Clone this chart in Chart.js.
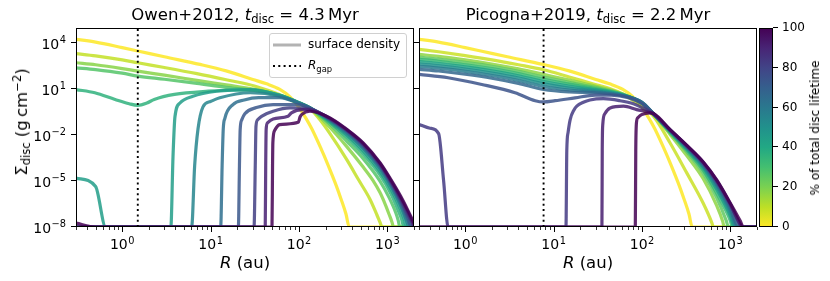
<!DOCTYPE html>
<html lang="en">
<head>
<meta charset="UTF-8">
<script src="https://cdn.jsdelivr.net/npm/chart.js"></script>
<title>Surface density profiles</title>
<style>
  body { margin: 0; background: #fff; }
  #fig { position: relative; width: 830px; height: 281px; overflow: hidden;
         font-family: "DejaVu Sans", sans-serif; color: #000; }
  #fig canvas { position: absolute; left: 0; top: 0; }
  .txt { position: absolute; white-space: nowrap; line-height: 20px; }
  .big { font-size: 16.5px; }
  .rot { transform: translate(-50%, -50%) rotate(-90deg); }
  sub, sup { font-size: 70%; line-height: 0; position: relative; vertical-align: baseline; }
  sub { top: 0.3em; }
  sup { top: -0.5em; }
  #legend { position: absolute; left: 269px; top: 33px; width: 136px; height: 43px;
            border: 1px solid #d0d0d0; border-radius: 3px; background: rgba(255,255,255,0.8);
            font-size: 12px; }
  #legend svg { position: absolute; left: 3px; }
  #legend span { position: absolute; left: 38px; line-height: 16px; white-space: nowrap; }
</style>
</head>
<body>
<div id="fig">
  <canvas id="owenChart" width="830" height="281"></canvas>
  <canvas id="picognaChart" width="830" height="281"></canvas>
  <canvas id="cbarChart" width="830" height="281"></canvas>

  <div class="txt big" style="left:245px; top:5px; transform:translateX(-50%)">Owen+2012, <i>t</i><sub>disc</sub> = 4.3&#8201;Myr</div>
  <div class="txt big" style="left:588px; top:5px; transform:translateX(-50%)">Picogna+2019, <i>t</i><sub>disc</sub> = 2.2&#8201;Myr</div>
  <div class="txt big" style="left:245px; top:253px; transform:translateX(-50%)"><i>R</i> (au)</div>
  <div class="txt big" style="left:588px; top:253px; transform:translateX(-50%)"><i>R</i> (au)</div>
  <div class="txt big rot" style="left:22px; top:122px">&Sigma;<sub>disc</sub> (g&#8201;cm<sup>&minus;2</sup>)</div>
  <div class="txt rot" style="left:815px; top:128px; font-size:12px">% of total disc lifetime</div>

  <div id="legend">
    <svg style="top:9px" width="28" height="4"><line x1="0" y1="2" x2="28" y2="2" stroke="rgba(128,128,128,0.6)" stroke-width="3"/></svg>
    <span style="top:2px">surface density</span>
    <svg style="top:30px" width="28" height="4"><line x1="0" y1="2" x2="28" y2="2" stroke="#000" stroke-width="2" stroke-dasharray="2 3.3"/></svg>
    <span style="top:23px"><i>R</i><sub>gap</sub></span>
  </div>
</div>

<script>
// snapshots: [R (au), log10 Sigma (g cm^-2)]
const initialProfile = [[0.3,4.26],[0.5,4.08],[1,3.72],[1.5,3.5],[3,3.12],[7.6,2.62],[15,2.2],[30,1.64],[43,1.35],[60,1.0],[79,0.5],[100,-0.2],[120,-0.9],[140,-1.6],[175,-2.8],[215,-4.0],[260,-5.2],[300,-6.2],[340,-7.15],[370,-8],[2000,-8]];

// Owen+2012 panel
const owenPct = [0, 9, 18, 27, 36, 45, 55, 64, 73, 82, 91, 100];
const owenRgap = 1.5;
const owenProfiles = [
  initialProfile,
  [[0.3,3.33],[0.5,3.18],[1,2.92],[1.5,2.73],[3,2.42],[7,2.02],[15,1.62],[32,1.2],[60,0.65],[100,0.05],[133,-0.25],[170,-0.95],[224,-1.9],[347,-3.6],[470,-4.9],[637,-6.2],[760,-7.2],[826,-7.7],[870,-8],[2000,-8]],
  [[0.3,2.73],[0.5,2.6],[1,2.35],[1.5,2.18],[3,1.92],[7,1.58],[15,1.28],[32,0.98],[60,0.6],[100,0.1],[133,-0.22],[224,-1.5],[347,-2.75],[535,-4.1],[686,-4.95],[825,-5.75],[950,-6.55],[1050,-7.2],[1130,-7.7],[1170,-8],[2000,-8]],
  [[0.3,2.4],[0.5,2.28],[1,2.05],[1.5,1.86],[3,1.65],[7,1.38],[15,1.12],[32,0.9],[60,0.58],[100,0.12],[133,-0.22],[224,-1.3],[347,-2.4],[535,-3.55],[825,-5.0],[1050,-6.1],[1250,-7.1],[1330,-7.6],[1380,-8],[2000,-8]],
  [[0.3,0.98],[0.49,0.77],[0.83,0.33],[1.2,0.05],[1.5,-0.05],[1.9,0.1],[2.3,0.33],[3.9,0.66],[9.4,0.87],[20,0.95],[32,0.92],[60,0.6],[100,0.12],[133,-0.22],[224,-1.18],[347,-2.15],[535,-3.25],[825,-4.6],[1100,-5.85],[1300,-6.8],[1450,-7.5],[1530,-8],[2000,-8]],
  [[0.3,-4.8],[0.5,-5.36],[0.65,-8],[3.55,-8],[3.75,-3.5],[3.95,-0.8],[4.5,0.1],[6.3,0.54],[11.7,0.87],[28,0.98],[60,0.62],[100,0.12],[133,-0.22],[224,-1.1],[347,-2.0],[535,-3.05],[825,-4.38],[1100,-5.55],[1400,-6.8],[1560,-7.55],[1650,-8],[2000,-8]],
  [[0.3,-8],[6.1,-8],[6.6,-4],[7.2,-1.6],[8.2,-0.15],[10,0.2],[12.7,0.44],[28,0.77],[60,0.55],[100,0.1],[133,-0.22],[224,-1.04],[347,-1.88],[535,-2.88],[825,-4.2],[1100,-5.35],[1400,-6.55],[1650,-7.6],[1750,-8],[2000,-8]],
  [[0.3,-8],[13,-8],[13.5,-4],[13.9,-1.6],[14.5,-0.9],[17.9,0.0],[24,0.3],[35,0.45],[60,0.45],[100,0.08],[133,-0.22],[224,-0.99],[347,-1.79],[535,-2.78],[825,-4.07],[1100,-5.22],[1400,-6.38],[1700,-7.55],[1830,-8],[2000,-8]],
  [[0.3,-8],[20.6,-8],[21.2,-4],[21.6,-1.64],[22.5,-1.0],[24.4,-0.6],[33,-0.2],[51,0.0],[94,0.0],[133,-0.22],[224,-0.95],[347,-1.72],[535,-2.7],[825,-3.98],[1100,-5.12],[1400,-6.25],[1700,-7.35],[1900,-8],[2000,-8]],
  [[0.3,-8],[31,-8],[32,-4],[32.6,-1.42],[34,-1.0],[37.7,-0.77],[51,-0.44],[79,-0.22],[133,-0.3],[224,-0.93],[347,-1.68],[535,-2.63],[825,-3.92],[1100,-5.05],[1400,-6.15],[1700,-7.18],[2000,-8]],
  [[0.3,-8],[41.5,-8],[42,-4],[42.5,-1.64],[44,-1.2],[51,-0.94],[75,-0.77],[82,-0.54],[110,-0.33],[133,-0.35],[224,-0.9],[347,-1.65],[535,-2.57],[825,-3.85],[1100,-5.0],[1400,-6.05],[1700,-7.0],[2000,-7.9]],
  [[0.3,-7.75],[0.5,-8],[49.5,-8],[50.2,-4],[50.6,-2.5],[53,-1.7],[60.5,-1.31],[98,-1.16],[103,-0.8],[107,-0.66],[133,-0.44],[224,-0.87],[347,-1.62],[535,-2.52],[825,-3.8],[1100,-4.92],[1400,-5.95],[1700,-6.9],[2000,-7.75]]
];

// Picogna+2019 panel
const picognaPct = [0, 8, 17, 25, 33, 42, 50, 58, 67, 75, 83, 92, 100];
const picognaRgap = 7.7;
const picognaProfiles = [
  initialProfile,
  [[0.3,3.61],[0.5,3.45],[1,3.2],[2,2.92],[4,2.6],[7.7,2.27],[15,1.8],[29.5,1.31],[43,1.05],[60,0.7],[87.5,0.1],[110,-0.3],[135,-0.77],[208,-2.51],[322,-4.48],[493,-6.45],[620,-7.76],[640,-8],[2000,-8]],
  [[0.3,3.28],[0.5,3.15],[1,2.92],[2,2.65],[4,2.33],[7.7,1.97],[15,1.6],[29.5,1.2],[60,0.7],[100,0.05],[135,-0.65],[208,-1.95],[322,-3.35],[493,-4.85],[700,-6.6],[820,-7.65],[850,-8],[2000,-8]],
  [[0.3,3.1],[0.5,2.97],[1,2.75],[2,2.5],[4,2.17],[7.7,1.8],[15,1.45],[29.5,1.12],[60,0.68],[100,0.08],[135,-0.63],[208,-1.85],[322,-3.1],[493,-4.5],[700,-6.1],[900,-7.6],[950,-8],[2000,-8]],
  [[0.3,2.95],[0.5,2.83],[1,2.6],[2,2.35],[4,2.02],[7.7,1.65],[15,1.33],[29.5,1.05],[60,0.66],[100,0.1],[135,-0.62],[208,-1.8],[322,-3.0],[493,-4.3],[700,-5.8],[1000,-7.6],[1050,-8],[2000,-8]],
  [[0.3,2.8],[0.5,2.68],[1,2.46],[2,2.2],[4,1.88],[7.7,1.5],[15,1.2],[29.5,0.98],[60,0.64],[100,0.12],[135,-0.62],[208,-1.75],[322,-2.92],[493,-4.15],[700,-5.55],[1000,-7.3],[1100,-8],[2000,-8]],
  [[0.3,2.65],[0.5,2.53],[1,2.32],[2,2.05],[4,1.73],[7.7,1.35],[15,1.08],[29.5,0.9],[60,0.62],[100,0.13],[135,-0.61],[208,-1.72],[322,-2.85],[493,-4.05],[700,-5.4],[1000,-7.1],[1150,-8],[2000,-8]],
  [[0.3,2.5],[0.5,2.38],[1,2.17],[2,1.9],[4,1.57],[7.7,1.18],[15,0.95],[29.5,0.83],[60,0.6],[100,0.14],[135,-0.61],[208,-1.7],[322,-2.8],[493,-3.97],[700,-5.25],[1000,-6.9],[1200,-8],[2000,-8]],
  [[0.3,2.3],[0.5,2.19],[1,1.98],[2,1.72],[4,1.38],[7.7,0.98],[15,0.82],[29.5,0.77],[60,0.58],[100,0.15],[135,-0.6],[208,-1.68],[322,-2.76],[493,-3.9],[700,-5.15],[1000,-6.75],[1250,-8],[2000,-8]],
  [[0.3,1.97],[0.64,1.75],[1.54,1.31],[3.66,0.77],[6.2,0.25],[7.67,0.17],[10.4,0.25],[17.5,0.44],[29.5,0.62],[45,0.62],[70,0.45],[100,0.05],[135,-0.6],[208,-1.67],[322,-2.73],[493,-3.85],[700,-5.05],[1000,-6.6],[1290,-7.95],[1300,-8],[2000,-8]],
  [[0.3,-1.3],[0.4,-1.55],[0.5,-1.9],[0.57,-5],[0.64,-8],[13.8,-8],[14.1,-3],[14.6,-1.8],[15.4,-0.98],[17,-0.35],[18.3,-0.1],[21.7,0.15],[25.8,0.3],[36.6,0.38],[56.5,0.25],[80,0.05],[100,-0.2],[135,-0.6],[208,-1.66],[322,-2.71],[493,-3.8],[700,-5.0],[1000,-6.55],[1290,-7.85],[1350,-8],[2000,-8]],
  [[0.3,-8],[35.2,-8],[35.5,-3],[36,-1.3],[38,-0.6],[43.6,-0.22],[61.7,-0.11],[87,-0.33],[135,-0.62],[208,-1.65],[322,-2.69],[493,-3.77],[700,-4.95],[1000,-6.5],[1290,-7.8],[1380,-8],[2000,-8]],
  [[0.3,-8],[84,-8],[85,-3],[86.5,-1.2],[90,-0.85],[99,-0.66],[123,-0.54],[135,-0.58],[208,-1.64],[322,-2.67],[493,-3.75],[700,-4.92],[1000,-6.45],[1290,-7.6],[1400,-8],[2000,-8]]
];

// axes
const xMajorTicks = [1, 10, 100, 1000];
const xMajorExp = ['0', '1', '2', '3'];
const xMinorTicks = [0.3, 0.4, 0.5, 0.6, 0.7, 0.8, 0.9, 2, 3, 4, 5, 6, 7, 8, 9,
                     20, 30, 40, 50, 60, 70, 80, 90, 200, 300, 400, 500, 600, 700, 800, 900, 2000];
const yMajorTicks = [1e-8, 1e-5, 1e-2, 1e1, 1e4];
const yMajorExp = ['\u22128', '\u22125', '\u22122', '1', '4'];
const cbarTicks = [0, 20, 40, 60, 80, 100];

const viridis = ['#440154', '#482475', '#414487', '#355f8d', '#2a788e', '#21918c',
                 '#22a884', '#44bf70', '#7ad151', '#bddf26', '#fde725'];

function hexRgb(h) {
  return [parseInt(h.slice(1, 3), 16), parseInt(h.slice(3, 5), 16), parseInt(h.slice(5, 7), 16)];
}

// reversed viridis: 0 % -> yellow, 100 % -> purple
function lifetimeColour(pct, alpha) {
  const t = (1 - pct / 100) * (viridis.length - 1);
  const i = Math.min(viridis.length - 2, Math.floor(t));
  const f = t - i;
  const a = hexRgb(viridis[i]), b = hexRgb(viridis[i + 1]);
  const c = a.map((v, k) => Math.round(v + (b[k] - v) * f));
  return 'rgba(' + c[0] + ',' + c[1] + ',' + c[2] + ',' + alpha + ')';
}

function profileSets(pct, profiles, rgap) {
  const n = pct.length;
  const sets = profiles.map((prof, i) => ({
    data: prof.map(p => ({ x: p[0], y: Math.pow(10, p[1]) })),
    borderColor: lifetimeColour(pct[i], 0.85),
    borderWidth: 3.2,
    order: n - i
  }));
  sets.push({
    data: [{ x: rgap, y: 1e-8 }, { x: rgap, y: 1e5 }],
    borderColor: '#000',
    borderWidth: 1.9,
    borderDash: [2, 3.3],
    borderCapStyle: 'butt',
    cubicInterpolationMode: 'default',
    tension: 0,
    order: 0
  });
  return sets;
}

const TICK_FONT = '14px "DejaVu Sans"';
const EXP_FONT = '9.8px "DejaVu Sans"';

function drawPower(ctx, exp, x, baseY, align) {
  ctx.font = TICK_FONT;
  const wb = ctx.measureText('10').width;
  ctx.font = EXP_FONT;
  const we = ctx.measureText(exp).width;
  const w = wb + we + 0.5;
  const x0 = align === 'right' ? x - w : x - w / 2;
  ctx.textAlign = 'left';
  ctx.textBaseline = 'alphabetic';
  ctx.font = TICK_FONT;
  ctx.fillText('10', x0, baseY);
  ctx.font = EXP_FONT;
  ctx.fillText(exp, x0 + wb + 0.5, baseY - 5.4);
}

function axesPlugin(showYLabels) {
  return {
    id: 'mplAxes',
    afterDraw(chart) {
      const { ctx, chartArea: a } = chart;
      const xs = chart.scales.x, ys = chart.scales.y;
      const L = Math.round(a.left), R = Math.round(a.right);
      const T = Math.round(a.top), B = Math.round(a.bottom);
      ctx.save();
      ctx.strokeStyle = '#000';
      ctx.fillStyle = '#000';
      ctx.lineWidth = 1;
      ctx.strokeRect(L + 0.5, T + 0.5, R - L - 1, B - T - 1);

      const vtick = (px, len, w) => {
        const xx = Math.round(px) + 0.5;
        ctx.lineWidth = w;
        ctx.beginPath(); ctx.moveTo(xx, B); ctx.lineTo(xx, B + len); ctx.stroke();
      };
      xMinorTicks.forEach(v => vtick(xs.getPixelForValue(v), 3, 0.8));
      xMajorTicks.forEach((v, i) => {
        const px = xs.getPixelForValue(v);
        vtick(px, 5, 1);
        drawPower(ctx, xMajorExp[i], px, B + 22, 'center');
      });
      yMajorTicks.forEach((v, i) => {
        const py = Math.round(ys.getPixelForValue(v)) - 0.5;
        ctx.lineWidth = 1;
        ctx.beginPath(); ctx.moveTo(L - 5, py); ctx.lineTo(L, py); ctx.stroke();
        if (showYLabels) drawPower(ctx, yMajorExp[i], L - 10, py + 6, 'right');
      });
      ctx.restore();
    }
  };
}

function panelOptions(padLeft, padRight) {
  return {
    responsive: false,
    animation: false,
    events: [],
    layout: { padding: { left: padLeft, right: padRight, top: 28, bottom: 54 } },
    elements: {
      point: { radius: 0 },
      line: { cubicInterpolationMode: 'monotone', borderCapStyle: 'round', borderJoinStyle: 'round' }
    },
    datasets: { line: { clip: 0 } },
    scales: {
      x: { type: 'logarithmic', min: 0.3, max: 2000, display: false },
      y: { type: 'logarithmic', min: 1e-8, max: 1e5, display: false }
    },
    plugins: { legend: { display: false }, tooltip: { enabled: false } }
  };
}

new Chart('owenChart', {
  type: 'line',
  data: { datasets: profileSets(owenPct, owenProfiles, owenRgap) },
  options: panelOptions(76, 416),
  plugins: [axesPlugin(true)]
});

new Chart('picognaChart', {
  type: 'line',
  data: { datasets: profileSets(picognaPct, picognaProfiles, picognaRgap) },
  options: panelOptions(419, 73),
  plugins: [axesPlugin(false)]
});

const colourbar = {
  id: 'colourbar',
  afterDraw(chart) {
    const { ctx, chartArea: a } = chart;
    const ys = chart.scales.y;
    const L = Math.round(a.left), R = Math.round(a.right);
    const T = Math.round(a.top), B = Math.round(a.bottom);
    const g = ctx.createLinearGradient(0, ys.getPixelForValue(0), 0, ys.getPixelForValue(100));
    viridis.forEach((c, i) => g.addColorStop(1 - i / (viridis.length - 1), c));
    ctx.save();
    ctx.fillStyle = g;
    ctx.fillRect(L, T, R - L, B - T);
    ctx.strokeStyle = '#000';
    ctx.lineWidth = 1;
    ctx.strokeRect(L + 0.5, T + 0.5, R - L - 1, B - T - 1);
    ctx.fillStyle = '#000';
    ctx.font = '12px "DejaVu Sans"';
    ctx.textAlign = 'left';
    ctx.textBaseline = 'middle';
    cbarTicks.forEach(v => {
      const py = Math.round(ys.getPixelForValue(v)) - 0.5;
      ctx.beginPath(); ctx.moveTo(R, py); ctx.lineTo(R + 5, py); ctx.stroke();
      ctx.fillText(String(v), R + 9, py + 0.5);
    });
    ctx.restore();
  }
};

new Chart('cbarChart', {
  type: 'line',
  data: { datasets: [] },
  options: {
    responsive: false,
    animation: false,
    events: [],
    layout: { padding: { left: 759, right: 57, top: 28, bottom: 54 } },
    scales: {
      x: { type: 'linear', display: false },
      y: { type: 'linear', min: 0, max: 100, display: false }
    },
    plugins: { legend: { display: false }, tooltip: { enabled: false } }
  },
  plugins: [colourbar]
});
</script>
</body>
</html>
